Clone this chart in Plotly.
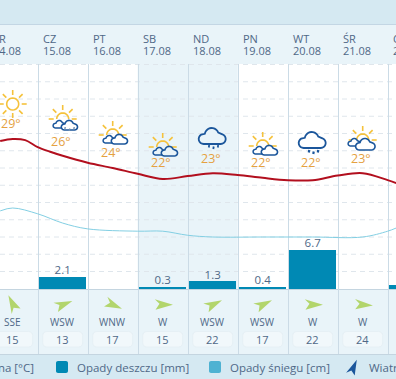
import math
import plotly.graph_objects as go

W, H = 396, 379
COL = 50.0
X0 = 12.7            # pixel centre of day 0
BASE_PX = 289.0
MM_PX = 5.82
TEMP_PX = 5.8
TEMP_REF, TEMP_REF_PX = 22.0, 179.0

# ---------- data ----------
day_names = ["ŚR", "CZ", "PT", "SB", "ND", "PN", "WT", "ŚR", "CZ"]
day_dates = ["14.08", "15.08", "16.08", "17.08", "18.08", "19.08", "20.08", "21.08", "22.08"]
day_index = [0, 1, 2, 3, 4, 5, 6, 7, 8]
temp_labels = [29, 26, 24, 22, 23, 22, 22, 23]
icons = ["sun", "storm", "partly", "partly", "rain", "partly", "heavy", "bigpartly"]
icon_y = [104, 119, 135, 147, 144, 146, 148, 140]
temp_label_y = [123, 141, 152, 163, 158, 163, 163, 158]
rain_mm = [0, 2.1, 0, 0.3, 1.3, 0.4, 6.7, 0, 0.7]
wind_dir = ["SSE", "WSW", "WNW", "W", "WSW", "WSW", "W", "W"]
wind_speed = [15, 13, 17, 15, 22, 17, 22, 24]
wind_heading = [-25, 70, 115, 92, 65, 65, 92, 95]

max_x = [-0.25, 0.0, 0.25, 0.5, 0.75, 1.0, 1.5, 2.0, 2.5, 3.0, 3.5, 4.0, 4.5, 5.0, 5.5, 6.0, 6.5, 7.0, 7.5, 7.67]
max_t = [28.55, 28.9, 28.7, 27.5, 26.7, 26.0, 24.8, 23.9, 22.9, 22.0, 22.5, 23.0, 22.7, 22.2, 21.8, 21.8, 22.6, 23.0, 21.8, 21.3]
min_x = [-0.25, 0.0, 0.5, 1.0, 1.5, 2.5, 3.0, 3.5, 4.0, 5.0, 6.0, 7.0, 7.5, 7.67]
min_t = [16.5, 17.0, 16.0, 14.4, 13.4, 13.0, 13.0, 12.3, 12.0, 12.0, 12.0, 12.0, 13.0, 13.55]

# ---------- axis mapping ----------
x_range = [(0 - X0) / COL, (W - X0) / COL]
rain_range = [(BASE_PX - H) / MM_PX, BASE_PX / MM_PX]
temp_range = [TEMP_REF - (H - TEMP_REF_PX) / TEMP_PX, TEMP_REF + TEMP_REF_PX / TEMP_PX]
grid_px = [64.5 + i * 17.25 for i in range(13)]

TEXT = "#4f6887"
FONT = "Open Sans"
BAND = "#d5e9f2"
PALE = "#e9f4f9"
LINE = "#cbdbe6"
AMBER = "#f5c23c"
NAVY = "#1b569b"
ORANGE = "#e5a13f"

shapes, annos = [], []


def px_shape(kind, **kw):
    shapes.append(dict(type=kind, xref="paper", yref="paper", **kw))


def fx(px):
    return px / W


def fy(px):
    return 1 - px / H


def rect(x0, y0, x1, y1, color, layer="below"):
    px_shape("rect", x0=fx(x0), x1=fx(x1), y0=fy(y0), y1=fy(y1), fillcolor=color,
             line=dict(width=0), layer=layer)


def seg(x0, y0, x1, y1, color, width=1, dash="solid", layer="below"):
    px_shape("line", x0=fx(x0), x1=fx(x1), y0=fy(y0), y1=fy(y1),
             line=dict(color=color, width=width, dash=dash), layer=layer)


def path(points, fill=None, color=None, width=0, closed=True, layer="above"):
    d = "M" + " L".join(f"{fx(a):.5f},{fy(b):.5f}" for a, b in points) + (" Z" if closed else "")
    shapes.append(dict(type="path", xref="paper", yref="paper", path=d,
                       fillcolor=fill or "rgba(0,0,0,0)",
                       line=dict(color=color or "rgba(0,0,0,0)", width=width), layer=layer))


def text(x, y, s, size=11, color=TEXT, anchor="center"):
    annos.append(dict(xref="paper", yref="paper", x=fx(x), y=fy(y), text=s, showarrow=False,
                      xanchor=anchor, yanchor="middle", borderpad=0,
                      font=dict(family=FONT, size=size, color=color)))


def arc(cx, cy, rx, ry, a0, a1, n=10):
    return [(cx + rx * math.cos(math.radians(a0 + (a1 - a0) * i / n)),
             cy - ry * math.sin(math.radians(a0 + (a1 - a0) * i / n))) for i in range(n + 1)]


def sun(cx, cy, r=6, ray0=9, ray1=14, half=False):
    angles = range(0, 181, 45) if half else range(0, 360, 45)
    for a in angles:
        c, s = math.cos(math.radians(a)), math.sin(math.radians(a))
        seg(cx + ray0 * c, cy - ray0 * s, cx + ray1 * c, cy - ray1 * s, AMBER, 1.6, layer="above")
    if half:
        path(arc(cx, cy, r, r, 0, 180, 14), color=AMBER, width=1.6, closed=False)
    else:
        path(arc(cx, cy, r, r, 0, 360, 24), fill="white", color=AMBER, width=1.6)


def cloud(cx, cy, s=1.0, width=1.5, fill="white"):
    """Outlined cloud, (cx, cy) is the centre of its flat bottom."""
    pts = []
    pts += arc(cx - 9 * s, cy - 5 * s, 5 * s, 5 * s, 270, 120, 8)
    pts += arc(cx - 1 * s, cy - 9 * s, 7 * s, 7 * s, 170, 20, 10)
    pts += arc(cx + 8 * s, cy - 5 * s, 5 * s, 5 * s, 70, -90, 8)
    path(pts, fill=fill, color=NAVY, width=width)


def drops(cx, cy, n, color=NAVY, width=2.0):
    for i in range(n):
        x = cx + (i - (n - 1) / 2) * 4.5
        y = cy + (1.5 if i % 2 else 0)
        seg(x, y, x - 0.4, y + 2.5, color, width, layer="above")


def draw_icon(kind, cx, cy, fill):
    if kind == "sun":
        sun(cx, cy)
    elif kind == "partly":
        sun(cx, cy, half=True)
        cloud(cx - 3, cy + 8, 0.47, 1.5, fill)
        cloud(cx + 7, cy + 9, 0.6, 1.6, fill)
    elif kind == "bigpartly":
        sun(cx, cy, half=True)
        cloud(cx - 8, cy + 6, 0.47, 1.5, fill)
        cloud(cx + 3, cy + 10, 0.72, 1.6, fill)
    elif kind == "storm":
        sun(cx, cy, half=True)
        cloud(cx - 3, cy + 9, 0.47, 1.5, fill)
        cloud(cx + 7, cy + 11, 0.6, 1.6, fill)
        drops(cx + 7, cy + 8, 3, "#6f8fb2", 1.4)
    elif kind == "rain":
        cloud(cx, cy, 1.0, 1.8, fill)
        drops(cx + 1, cy + 1, 3, NAVY, 1.8)
    elif kind == "heavy":
        cloud(cx, cy, 1.0, 1.8, fill)
        drops(cx + 1, cy + 2, 3, NAVY, 2.2)


def plane(cx, cy, heading, size=1.0, color="#b2d56c"):
    """Wind arrow: a barbed pointer rotated to its heading (degrees clockwise from north)."""
    base = [(0, -9.5), (5, 6.5), (-0.5, 3), (-4.5, 7.5)]
    h = math.radians(heading)
    pts = [(cx + size * (a * math.cos(h) - b * math.sin(h)),
            cy + size * (a * math.sin(h) + b * math.cos(h))) for a, b in base]
    path(pts, fill=color)


def rounded(x0, y0, x1, y1, r, fill, border=None):
    pts = arc(x1 - r, y0 + r, r, r, 90, 0, 4) + arc(x1 - r, y1 - r, r, r, 0, -90, 4) \
        + arc(x0 + r, y1 - r, r, r, 270, 180, 4) + arc(x0 + r, y0 + r, r, r, 180, 90, 4)
    path(pts, fill=fill, color=border, width=1 if border else 0)


# ---------- background bands ----------
rect(0, 0, W, 24, BAND)
rect(0, 24, W, 64, PALE)
rect(0, 64, W, 289, "white")
rect(X0 + 2.5 * COL, 64, X0 + 4.5 * COL, 289, PALE)
rect(0, 289, W, 354, PALE)
rect(0, 354, W, H, BAND)
seg(0, 24.5, W, 24.5, "#c3d6e4", 1)
seg(0, 289.5, W, 289.5, "#c4d5e0", 1)
seg(0, 354.5, W, 354.5, "#c4d5e0", 1)
for g in grid_px:
    seg(0, g, W, g, "#dfe6ec", 1, dash="5px,4px")
for i in range(8):
    xp = round(X0 + (i + 0.5) * COL) + 0.5
    seg(xp, 64, xp, 354, LINE, 1)

# ---------- per-day furniture ----------
for i in range(9):
    cx = X0 + i * COL
    if i < 8:
        draw_icon(icons[i], cx, icon_y[i], PALE if i in (3, 4) else "white")
        text(cx - 1.5, temp_label_y[i], f"{temp_labels[i]}°", 12.5, ORANGE)
        plane(cx, 304.5, wind_heading[i], 1.08)
        text(cx, 322, wind_dir[i], 10)
        rounded(cx - 20, 331.5, cx + 20, 347, 4, "#f1f8fb", "#e6f0f5")
        text(cx, 339.5, str(wind_speed[i]), 11)
    text(cx - 20.5, 38.5, day_names[i], 11, anchor="left")
    text(cx - 20.5, 50.5, day_dates[i], 11, anchor="left")

# ---------- legend ----------
text(35, 367, "lna [°C]", 11.5, anchor="right")
rounded(56, 361, 68, 373, 2, "#0089b4")
text(76, 367, "Opady deszczu [mm]", 11.5, anchor="left")
rounded(209, 361, 221, 373, 2, "#4eb2d2")
text(229, 367, "Opady śniegu [cm]", 11.5, anchor="left")
plane(353, 368, 25, 0.95, NAVY)
text(368, 367, "Wiatr", 11.5, anchor="left")

# the last bar's label lies beyond the picture's right edge, so only on-canvas bars are labelled
bar_x = [d for d, v in zip(day_index, rain_mm) if v and d < 8]
bar_y = [v for d, v in zip(day_index, rain_mm) if v and d < 8]

fig = go.Figure()
fig.add_trace(go.Bar(
    x=day_index, y=rain_mm, width=0.94, yaxis="y", marker=dict(color="#0089b4", line=dict(width=0)),
    name="Opady deszczu [mm]"))
fig.add_trace(go.Scatter(
    x=bar_x, y=bar_y, mode="text", yaxis="y", text=[f"{v:.1f}" for v in bar_y],
    textposition="top center", cliponaxis=False,
    textfont=dict(family=FONT, size=11.5, color=TEXT), showlegend=False))
fig.add_trace(go.Scatter(
    x=min_x, y=min_t, mode="lines", yaxis="y2", line=dict(color="#83cfe3", width=1, shape="spline"),
    name="Temperatura minimalna [°C]"))
fig.add_trace(go.Scatter(
    x=max_x, y=max_t, mode="lines", yaxis="y2", line=dict(color="#b20f1e", width=2, shape="spline"),
    name="Temperatura maksymalna [°C]"))

fig.update_layout(
    width=W, height=H, margin=dict(l=0, r=0, t=0, b=0), showlegend=False,
    paper_bgcolor=BAND, plot_bgcolor="rgba(0,0,0,0)", shapes=shapes, annotations=annos,
    bargap=0,
    xaxis=dict(range=x_range, visible=False, fixedrange=True),
    yaxis=dict(range=rain_range, visible=False, fixedrange=True),
    yaxis2=dict(range=temp_range, visible=False, overlaying="y", fixedrange=True),
)
fig.write_html("out.html", config=dict(displayModeBar=False),
               post_script="document.body.style.margin='0';document.body.style.overflow='hidden';")
